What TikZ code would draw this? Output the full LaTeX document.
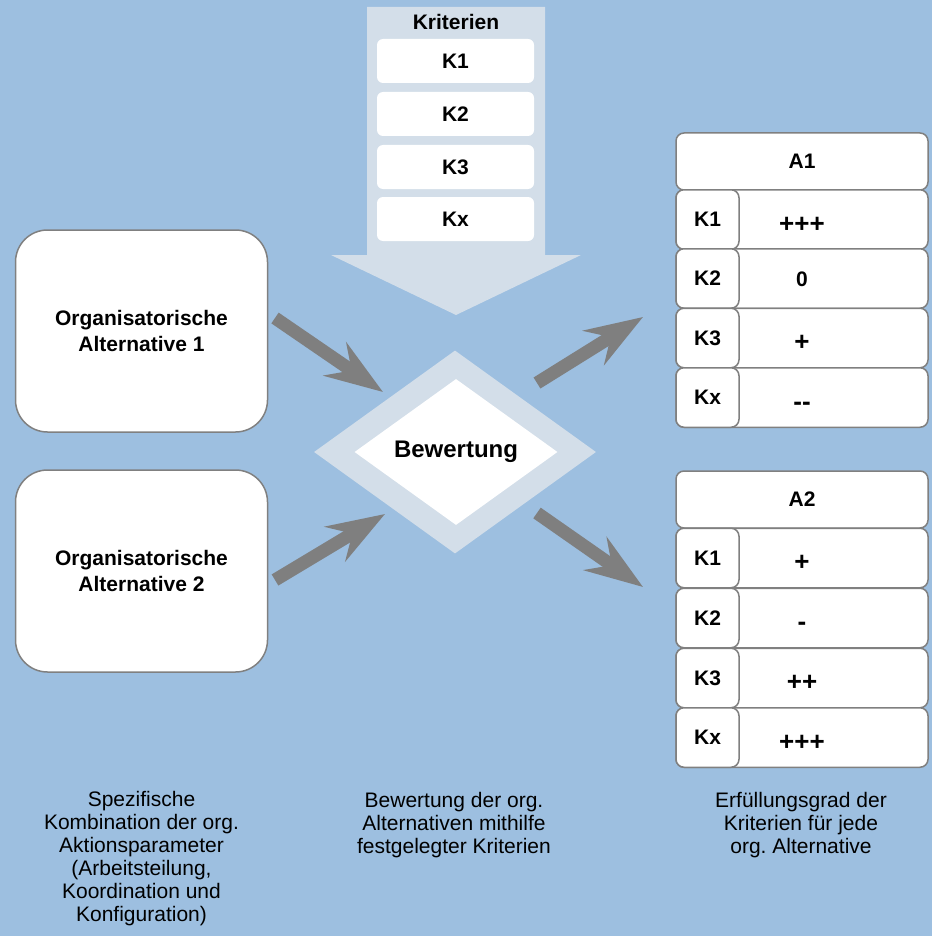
\documentclass[tikz,border=0pt]{standalone}
\usepackage{fontspec}
\setmainfont{Liberation Sans}
\usetikzlibrary{shapes.geometric,arrows.meta}

\definecolor{bgblue}{RGB}{157,191,224}
\definecolor{paleblue}{RGB}{211,222,233}
\definecolor{arrowgrey}{RGB}{127,127,127}
\definecolor{boxgrey}{RGB}{128,128,128}

\tikzset{
	boldtext/.style={font=\fontsize{21}{26}\selectfont\bfseries},
	altbox/.style={boldtext, draw=boxgrey, line width=1.5pt, fill=white, rounded corners=32pt, minimum width=252pt, minimum height=202pt, align=center},
	kbox/.style={boldtext, fill=white, rounded corners=6pt, minimum width=157pt, minimum height=44pt},
	rowbox/.style={boldtext, draw=boxgrey, line width=1.5pt, fill=white, rounded corners=8pt, minimum width=252pt, minimum height=59.5pt},
	valbox/.style={rowbox, font=\fontsize{26}{30}\selectfont\bfseries, text height=25pt, text depth=0pt},
	labbox/.style={rowbox, minimum width=63pt},
	bigarrow/.style={draw=arrowgrey, line width=13pt, -{Stealth[length=58pt,width=40pt,inset=20pt]}},
	caption/.style={align=center, inner sep=0pt, font=\fontsize{21}{23}\selectfont}
}

\begin{document}
\frenchspacing
\begin{tikzpicture}[x=1pt,y=-1pt]
	\fill[bgblue] (0,0) rectangle (932,936);
	\useasboundingbox (0,0) rectangle (932,936);

	\fill[paleblue] (367,7) -- (545,7) -- (545,255) -- (581,255) -- (456,315) -- (331,255) -- (367,255) -- cycle;
	\node[boldtext] (krit) at (456,22) {Kriterien};
	\node[kbox] (k1) at (455.5,61) {K1};
	\node[kbox] (k2) at (455.5,114) {K2};
	\node[kbox] (k3) at (455.5,167) {K3};
	\node[kbox] (kx) at (455.5,219) {Kx};

	\node[diamond, fill=paleblue, inner sep=0pt, minimum width=282pt, minimum height=203pt] (bewo) at (455,452) {};
	\node[diamond, fill=white, inner sep=0pt, minimum width=203pt, minimum height=146pt, font=\fontsize{24}{28}\selectfont\bfseries] (bew) at (456,452) {Bewertung};

	\node[altbox] (alt1) at (141.5,331) {Organisatorische\\Alternative 1};
	\node[altbox] (alt2) at (141.5,571) {Organisatorische\\Alternative 2};

	\coordinate (in1) at (275,318);
	\coordinate (in1e) at (383,392);
	\coordinate (in2) at (275,580);
	\coordinate (in2e) at (385,514);
	\coordinate (out1) at (537,383);
	\coordinate (out1e) at (643,317);
	\coordinate (out2) at (537,513);
	\coordinate (out2e) at (643,587);
	\draw[bigarrow] (in1) -- (in1e);
	\draw[bigarrow] (in2) -- (in2e);
	\draw[bigarrow] (out1) -- (out1e);
	\draw[bigarrow] (out2) -- (out2e);

	\node[rowbox, minimum height=57pt] (a1) at (802,161.5) {A1};
	\node[valbox] (a1k1) at (802,219.5) {+++};
	\node[labbox] (a1k1l) at (707.5,219.5) {K1};
	\node[rowbox, text height=16pt, text depth=0pt] (a1k2) at (802,278.5) {0};
	\node[labbox] (a1k2l) at (707.5,278.5) {K2};
	\node[valbox] (a1k3) at (802,338) {+};
	\node[labbox] (a1k3l) at (707.5,338) {K3};
	\node[valbox] (a1kx) at (802,397.5) {-{}-};
	\node[labbox] (a1kxl) at (707.5,397.5) {Kx};

	\node[rowbox, minimum height=57pt] (a2) at (802,499.5) {A2};
	\node[valbox] (a2k1) at (802,558) {+};
	\node[labbox] (a2k1l) at (707.5,558) {K1};
	\node[valbox] (a2k2) at (802,618) {-};
	\node[labbox] (a2k2l) at (707.5,618) {K2};
	\node[valbox] (a2k3) at (802,678) {++};
	\node[labbox] (a2k3l) at (707.5,678) {K3};
	\node[valbox] (a2kx) at (802,737.5) {+++};
	\node[labbox] (a2kxl) at (707.5,737.5) {Kx};

	\node[caption] (capl) at (141.5,859) {Spezifische\\Kombination der org.\\Aktionsparameter\\(Arbeitsteilung,\\Koordination und\\Konfiguration)};
	\node[caption] (capm) at (454,825) {Bewertung der org.\\Alternativen mithilfe\\festgelegter Kriterien};
	\node[caption] (capr) at (801,825) {Erfüllungsgrad der\\Kriterien für jede\\org. Alternative};
\end{tikzpicture}
\end{document}
